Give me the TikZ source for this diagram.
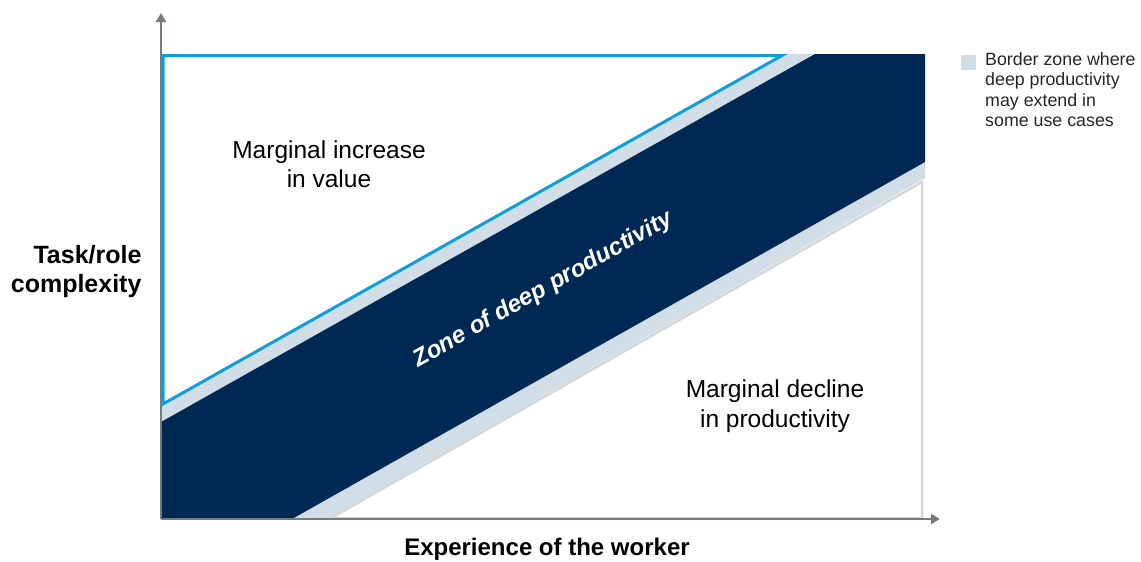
\documentclass[tikz,border=0pt]{standalone}
\usepackage{fontspec}
\setmainfont{Liberation Sans}
\usetikzlibrary{arrows.meta}

\begin{document}
\begin{tikzpicture}[x=1pt,y=-1pt,
		axis/.style={draw=caxis,line width=2pt,-{Triangle[length=9pt,width=10pt]}},
		zonetxt/.style={align=center,font=\fontsize{24.5}{29.5}\selectfont,text=black},
		axistxt/.style={font=\bfseries\fontsize{25}{29}\selectfont,text=black},
		keytxt/.style={align=left,font=\fontsize{17.8}{20.5}\selectfont,text=black!85}]
			\definecolor{caxis}{rgb}{0.45,0.49,0.49}
			\definecolor{cdark}{rgb}{0.0,0.157,0.333}
			\definecolor{clight}{rgb}{0.82,0.87,0.91}
			\definecolor{cblue}{rgb}{0.06,0.62,0.86}
			\definecolor{cgrey}{rgb}{0.84,0.84,0.84}
			%
			\path[use as bounding box] (0,0) rectangle (1141,562);
			%
			\fill[clight] (161,404) -- (784,54) -- (925,54) -- (925,178) -- (327,519) -- (161,519) -- cycle;
			\fill[cdark] (161,422) -- (815,54) -- (925,54) -- (925,162) -- (292,519) -- (161,519) -- cycle;
			\draw[cblue,line width=3pt,fill=white,line join=miter] (163,55.5) -- (782,55.5) -- (163,404) -- cycle;
			\draw[cgrey,line width=2.5pt,fill=white] (331,518) -- (922,182) -- (922,518) -- cycle;
			%
			\coordinate (o) at (161,519);
			\coordinate (ytip) at (161,13);
			\coordinate (xtip) at (940,519);
			\draw[axis] (o) -- (ytip);
			\draw[axis] (o) -- (xtip);
			%
			\node[zonetxt] (up) at (329,164) {Marginal increase\\in value};
			\node[zonetxt] (low) at (775,406) {Marginal decline\\in productivity};
			\node[font=\bfseries\itshape\fontsize{24}{28}\selectfont,text=white,rotate=29.4] (zone) at (543,290) {Zone of deep productivity};
			\node[axistxt,align=right,anchor=east] (ylab) at (145,272) {Task/role\\complexity};
			\node[axistxt,font=\bfseries\fontsize{24}{28}\selectfont] (xlab) at (547,549) {Experience of the worker};
			%
			\node[fill=clight,minimum size=15pt,inner sep=0pt] (key) at (968,62) {};
			\node[keytxt,anchor=north west,inner sep=0pt] (keylab) at (985,52) {Border zone where\\deep productivity\\may extend in\\some use cases};
			%
		\end{tikzpicture}
\end{document}
